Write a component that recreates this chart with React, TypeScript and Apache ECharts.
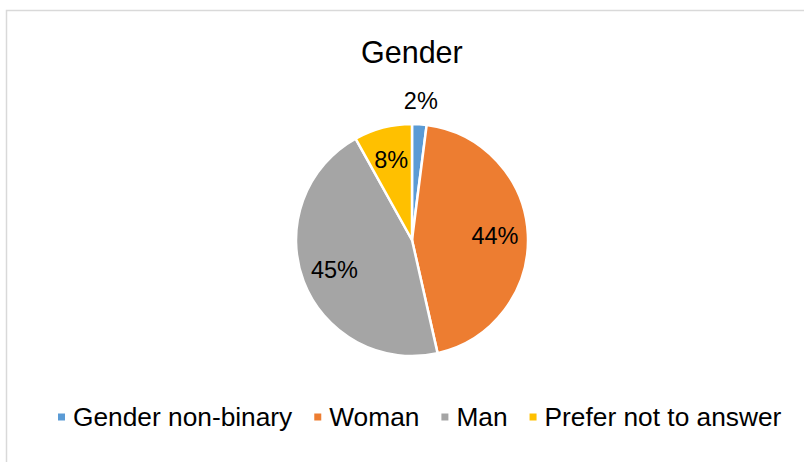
import React, { useEffect, useRef } from "react";
import * as echarts from "echarts";

const categories = ["Gender non-binary", "Woman", "Man", "Prefer not to answer"];
const values = [2, 44, 45, 8];
const colors = ["#5B9BD5", "#ED7D31", "#A5A5A5", "#FFC000"];
const outsideLabelIdx = [0];

const FONT = "'Liberation Sans', Arial, sans-serif";
const CX = 412;
const CY = 240;
const R = 116;

export default function App() {
  const ref = useRef<HTMLDivElement>(null);
  useEffect(() => {
    if (!ref.current) return;
    const chart = echarts.init(ref.current, null, { renderer: "svg" });
    const total = values.reduce((a, b) => a + b, 0);
    const fmt = (p: any) => Math.round((p.value / total) * 100) + "%";
    const mainData = categories.map((name, i) => ({
      name,
      value: values[i],
      itemStyle: { color: colors[i] },
    }));
    const innerLabelData = categories.map((name, i) => ({
      name,
      value: values[i],
      label: { show: !outsideLabelIdx.includes(i) },
    }));
    const outerLabelData = categories.map((name, i) => ({
      name,
      value: values[i],
      label: { show: outsideLabelIdx.includes(i) },
    }));
    const labelStyle = {
      position: "inside",
      formatter: fmt,
      color: "#000",
      fontSize: 23.5,
      fontFamily: FONT,
    };
    chart.setOption({
      animation: false,
      backgroundColor: "#fff",
      textStyle: { fontFamily: FONT },
      title: {
        text: "Gender",
        left: 356,
        top: 31,
        textStyle: { fontSize: 30.5, fontWeight: "normal", color: "#000", fontFamily: FONT },
      },
      legend: {
        data: categories,
        top: 399,
        left: 51,
        icon: "rect",
        itemWidth: 9,
        itemHeight: 9,
        itemGap: 20,
        textStyle: { fontSize: 26.3, color: "#000", fontFamily: FONT, padding: [0, 0, 0, 2] },
      },
      graphic: [
        {
          type: "rect",
          shape: { x: 6.5, y: 10.5, width: 820, height: 500 },
          style: { fill: "none", stroke: "#d9d9d9", lineWidth: 1.5 },
          silent: true,
          z: -10,
        },
      ],
      series: [
        {
          type: "pie",
          center: [CX, CY],
          radius: [0, R],
          startAngle: 90,
          clockwise: true,
          label: { show: false },
          labelLine: { show: false },
          itemStyle: { borderColor: "#fff", borderWidth: 2.5 },
          emphasis: { disabled: true },
          data: mainData,
        },
        {
          type: "pie",
          center: [CX, CY],
          radius: [R * 0.38, R],
          startAngle: 90,
          clockwise: true,
          silent: true,
          label: labelStyle,
          labelLine: { show: false },
          itemStyle: { color: "rgba(0,0,0,0)", borderWidth: 0 },
          emphasis: { disabled: true },
          data: innerLabelData,
          z: 5,
        },
        {
          type: "pie",
          center: [CX, CY],
          radius: [R, R + 40],
          startAngle: 90,
          clockwise: true,
          silent: true,
          label: labelStyle,
          labelLine: { show: false },
          itemStyle: { color: "rgba(0,0,0,0)", borderWidth: 0 },
          emphasis: { disabled: true },
          data: outerLabelData,
          z: 5,
        },
      ],
    });
    return () => chart.dispose();
  }, []);
  return (
    <div
      ref={ref}
      style={{ position: "fixed", left: 0, top: 0, width: 804, height: 462 }}
    />
  );
}
